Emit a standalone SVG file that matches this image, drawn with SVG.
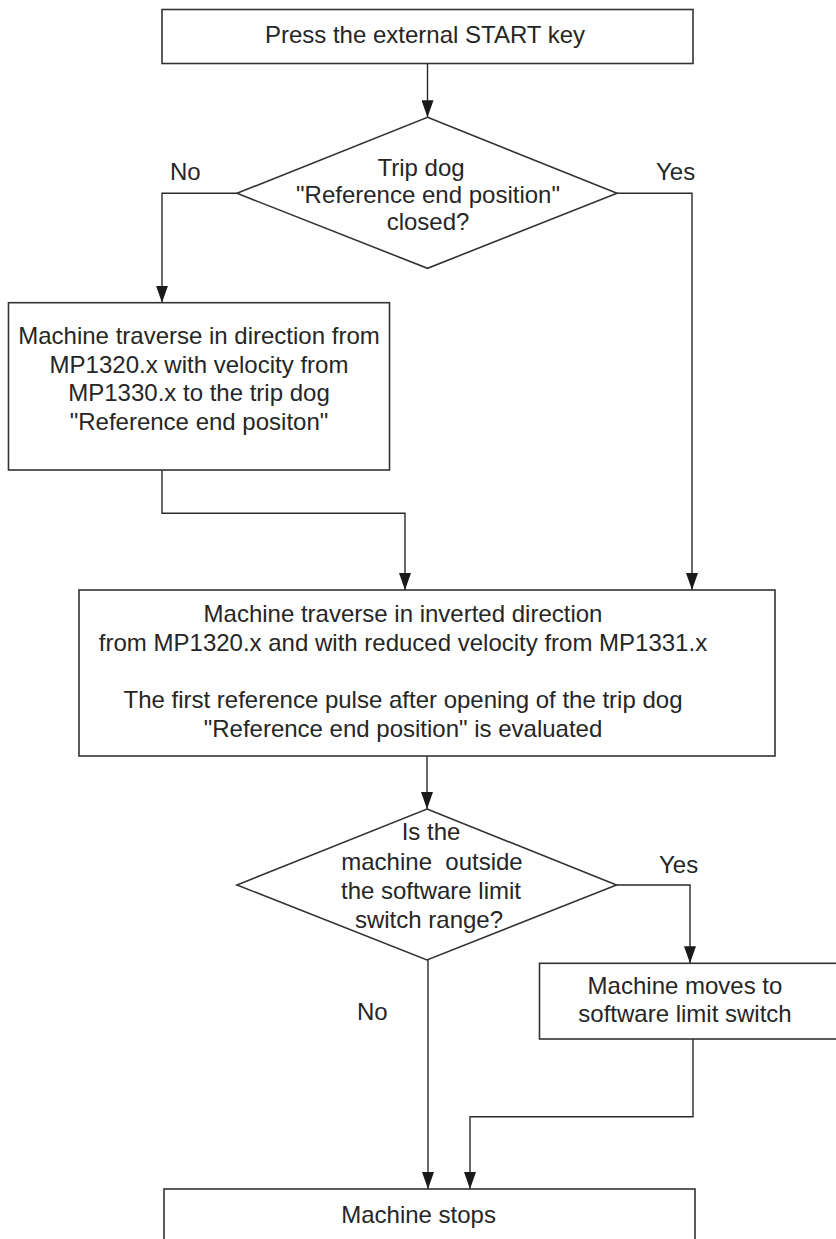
<svg xmlns="http://www.w3.org/2000/svg" width="836" height="1239" viewBox="0 0 836 1239">
<style>
.box{fill:#fff;stroke:#333;stroke-width:1.6}
.edge{fill:none;stroke:#2a2a2a;stroke-width:1.4}
text{font-family:"Liberation Sans",Arial,sans-serif;font-size:24px;fill:#262626}
.c{text-anchor:middle}
</style>
<defs>
<marker id="arr" markerUnits="userSpaceOnUse" markerWidth="17" markerHeight="12" refX="17" refY="6" orient="auto">
<path d="M0,0 L17,6 L0,12 z" fill="#1a1a1a"/>
</marker>
</defs>
<rect width="836" height="1239" fill="#fff"/>
<g id="connectors">
<path class="edge" d="M427.5,63.5 V117.3" marker-end="url(#arr)"/>
<path class="edge" d="M237,193.3 H162 V302.7" marker-end="url(#arr)"/>
<path class="edge" d="M617,193.3 H692 V590" marker-end="url(#arr)"/>
<path class="edge" d="M162,470 V513.3 H405 V590" marker-end="url(#arr)"/>
<path class="edge" d="M427,756 V809" marker-end="url(#arr)"/>
<path class="edge" d="M616.5,885 H690 V963.3" marker-end="url(#arr)"/>
<path class="edge" d="M428,960 V1189" marker-end="url(#arr)"/>
<path class="edge" d="M693,1039 V1116.7 H470 V1189" marker-end="url(#arr)"/>
<text x="170" y="179.5">No</text>
<text x="656" y="179.5">Yes</text>
<text x="659" y="873">Yes</text>
<text x="357" y="1019.5">No</text>
</g>
<g id="start">
<rect class="box" x="162" y="9.5" width="531" height="54"/>
<text class="c" x="425" y="43">Press the external START key</text>
</g>
<g id="decision1">
<polygon class="box" points="427.5,117.3 617,193.3 427.5,268.3 237,193.3"/>
<text class="c" x="421" y="176">Trip dog</text>
<text class="c" x="428" y="203">"Reference end position"</text>
<text class="c" x="428" y="229.5">closed?</text>
</g>
<g id="traverse1">
<rect class="box" x="8.5" y="302.7" width="381" height="167.3"/>
<text class="c" x="199" y="343.5">Machine traverse in direction from</text>
<text class="c" x="199" y="372.5">MP1320.x with velocity from</text>
<text class="c" x="199" y="401">MP1330.x to the trip dog</text>
<text class="c" x="199" y="430">"Reference end positon"</text>
</g>
<g id="traverse2">
<rect class="box" x="79" y="590" width="696" height="166"/>
<text class="c" x="403" y="621.7">Machine traverse in inverted direction</text>
<text class="c" x="403" y="651">from MP1320.x and with reduced velocity from MP1331.x</text>
<text class="c" x="403" y="708.3">The first reference pulse after opening of the trip dog</text>
<text class="c" x="403" y="736.7">"Reference end position" is evaluated</text>
</g>
<g id="decision2">
<polygon class="box" points="427,809 616.5,885 427,960 237,885"/>
<text class="c" x="431" y="840">Is the</text>
<text class="c" x="432" y="870" xml:space="preserve" style="white-space:pre">machine  outside</text>
<text class="c" x="431" y="898.5">the software limit</text>
<text class="c" x="429" y="927.5">switch range?</text>
</g>
<g id="moveLimit">
<rect class="box" x="539.5" y="963.3" width="305" height="75.7"/>
<text class="c" x="685" y="994">Machine moves to</text>
<text class="c" x="685" y="1021.7">software limit switch</text>
</g>
<g id="stop">
<rect class="box" x="164" y="1189" width="531" height="70"/>
<text class="c" x="418.6" y="1223.3">Machine stops</text>
</g>
</svg>
